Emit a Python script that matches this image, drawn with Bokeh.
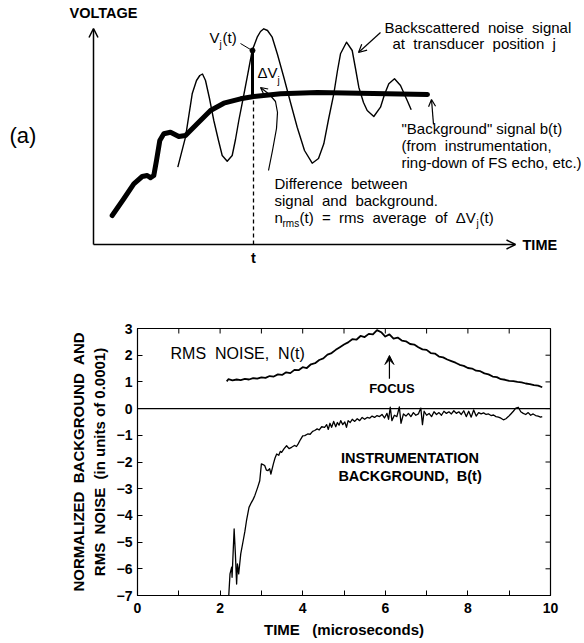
import math
from bokeh.plotting import figure
from bokeh.models import (Range1d, Label, Arrow, OpenHead, VeeHead, Span,
                          FixedTicker)
from bokeh.layouts import column
from bokeh.embed import file_html
from bokeh.resources import INLINE

FONT = "Liberation Sans"
S2 = " \u00a0"      # wide word gap (SVG collapses plain double spaces)
S3 = " \u00a0\u00a0"

# ---------------- panel (a): schematic (arbitrary units) ----------------
bg_t = [1.87, 3.03, 4.03, 4.87, 5.37, 5.7, 6.03, 6.3, 6.63, 7.03, 7.7, 8.53,
        9.2, 10.37, 11.7, 13.03, 14.7, 16.03, 18.7, 22.4, 28.0, 33.4]
bg_v = [2.9, 4.57, 6.07, 6.8, 6.9, 6.67, 6.9, 8.4, 10.4, 11.07, 11.23, 10.8,
        10.9, 12.07, 13.4, 14.13, 14.57, 14.8, 15.07, 15.2, 15.1, 15.0]

sig_t = [8.43, 9.2, 9.87, 10.3, 10.63, 10.9, 11.2, 11.6, 12.03, 12.5, 12.87,
         13.37, 13.87, 14.2, 14.53, 15.0, 15.37, 15.87, 16.37, 16.7, 17.03,
         17.4, 17.87, 18.4, 19.03, 19.7, 20.37, 21.1, 21.87, 22.5, 23.03,
         23.5, 24.03, 24.4, 24.7, 25.3, 25.87, 26.2, 26.53, 27.0, 27.37,
         28.03, 28.7, 29.1, 29.53, 30.1, 30.7, 31.37, 31.77]
sig_v = [7.73, 10.73, 15.07, 16.4, 16.9, 17.05, 16.4, 14.6, 12.4, 10.4, 8.9,
         8.33, 8.9, 10.5, 12.4, 14.8, 16.73, 19.4, 20.73, 21.3, 21.57,
         21.4, 20.73, 19.0, 16.73, 14.2, 11.73, 9.4, 8.13, 8.6, 10.07,
         12.5, 15.07, 17.4, 19.07, 20.23, 19.4, 17.6, 15.73, 14.2, 13.4,
         12.8, 13.73, 15.0, 16.07, 16.57, 15.9, 14.4, 13.47]

lead_t = [17.5, 17.9, 18.3, 18.4, 18.2, 17.6]
lead_v = [7.4, 9.4, 11.6, 13.2, 14.3, 15.0]

vj_t = 15.9
vj_v = 19.4
bg_at_t = 14.8

# ---------------- panel (b): measured data ----------------
n_t = [2.16, 2.2, 2.3, 2.4, 2.5, 2.6, 2.7, 2.8, 2.9, 3.0, 3.1, 3.2, 3.3, 3.4,
       3.5, 3.6, 3.7, 3.8, 3.9, 4.0, 4.1, 4.2, 4.3, 4.4, 4.5, 4.6, 4.7, 4.8,
       4.9, 5.0, 5.1, 5.2, 5.3, 5.4, 5.5, 5.6, 5.7, 5.8, 5.9, 6.0, 6.1, 6.2,
       6.3, 6.4, 6.5, 6.6, 6.7, 6.8, 6.9, 7.0, 7.1, 7.2, 7.3, 7.4, 7.5, 7.6,
       7.7, 7.8, 7.9, 8.0, 8.1, 8.2, 8.3, 8.4, 8.5, 8.6, 8.7, 8.8, 8.9, 9.0,
       9.1, 9.2, 9.3, 9.4, 9.5, 9.6, 9.7, 9.8]
n_val = [1.02, 1.10, 1.06, 1.09, 1.07, 1.11, 1.09, 1.14, 1.12, 1.17, 1.15,
         1.22, 1.20, 1.28, 1.26, 1.36, 1.33, 1.45, 1.44, 1.55, 1.52, 1.66,
         1.70, 1.82, 1.88, 2.02, 2.08, 2.20, 2.30, 2.40, 2.48, 2.60, 2.58,
         2.72, 2.68, 2.80, 2.78, 2.94, 2.86, 2.70, 2.78, 2.62, 2.66, 2.55,
         2.52, 2.42, 2.40, 2.30, 2.22, 2.20, 2.08, 2.06, 1.95, 1.92, 1.84,
         1.78, 1.72, 1.64, 1.60, 1.52, 1.50, 1.42, 1.40, 1.32, 1.28, 1.20,
         1.18, 1.10, 1.08, 1.04, 1.03, 1.00, 0.98, 0.94, 0.92, 0.88, 0.86,
         0.80]

b_t = [2.21, 2.24, 2.28, 2.29, 2.34, 2.37, 2.40, 2.42, 2.45, 2.50, 2.56,
       2.60, 2.64, 2.70, 2.76, 2.80, 2.84, 2.91, 2.96, 3.00, 3.04, 3.08,
       3.12, 3.16, 3.20, 3.23, 3.29, 3.33, 3.37, 3.42, 3.46, 3.49, 3.55,
       3.61, 3.67, 3.73, 3.80, 3.85, 3.89, 3.95, 4.00, 4.05, 4.12, 4.18,
       4.24, 4.29, 4.35, 4.40, 4.46, 4.53, 4.58, 4.62, 4.66, 4.70, 4.75,
       4.80, 4.84, 4.88, 4.92, 4.97, 5.02, 5.06, 5.10, 5.15, 5.20, 5.26,
       5.32, 5.38, 5.44, 5.50, 5.56, 5.62, 5.68, 5.74, 5.80, 5.86, 5.92,
       5.98, 6.04, 6.08, 6.12, 6.16, 6.22, 6.28, 6.34, 6.38, 6.44, 6.50,
       6.56, 6.62, 6.68, 6.74, 6.80, 6.86, 6.90, 6.94, 7.00, 7.06, 7.12,
       7.18, 7.24, 7.30, 7.36, 7.42, 7.48, 7.54, 7.60, 7.66, 7.72, 7.78,
       7.84, 7.90, 7.96, 8.02, 8.08, 8.14, 8.20, 8.26, 8.32, 8.38, 8.44,
       8.50, 8.56, 8.62, 8.68, 8.74, 8.80, 8.86, 8.92, 8.98, 9.04, 9.10,
       9.16, 9.22, 9.28, 9.34, 9.40, 9.46, 9.52, 9.58, 9.64, 9.70, 9.76,
       9.80]
b_val = [-7.0, -6.19, -5.94, -6.32, -4.51, -5.44, -6.57, -5.82, -6.19, -5.44,
         -4.94, -4.60, -4.19, -3.70, -3.51, -3.40, -3.26, -2.95, -2.70, -2.07,
         -2.10, -2.13, -2.30, -2.32, -2.25, -2.45, -2.07, -1.85, -1.70, -1.75,
         -1.60, -1.64, -1.50, -1.39, -1.50, -1.45, -1.38, -1.42, -1.32, -1.15,
         -1.02, -1.01, -0.95, -0.96, -0.85, -0.82, -0.76, -0.80, -0.68, -0.70,
         -0.60, -0.78, -0.55, -0.70, -0.48, -0.68, -0.52, -0.62, -0.45, -0.60,
         -0.50, -0.70, -0.45, -0.52, -0.40, -0.48, -0.38, -0.45, -0.33, -0.40,
         -0.33, -0.36, -0.28, -0.33, -0.26, -0.30, -0.22, -0.35, -0.18, -0.40,
         0.05, -0.45, -0.25, -0.30, 0.06, -0.55, -0.20, -0.28, -0.18, -0.30,
         -0.15, -0.25, -0.20, 0.02, -0.60, -0.10, -0.25, -0.18, -0.30, -0.12,
         -0.22, -0.15, -0.25, -0.10, -0.18, -0.12, -0.20, -0.08, -0.18, -0.12,
         -0.22, -0.08, -0.30, -0.10, -0.32, -0.05, -0.28, -0.15, -0.20, -0.16,
         -0.22, -0.20, -0.26, -0.24, -0.30, -0.32, -0.36, -0.42, -0.38, -0.30,
         -0.20, -0.10, 0.02, 0.05, -0.12, -0.18, -0.22, -0.15, -0.25, -0.20,
         -0.26, -0.28, -0.32, -0.30]

x_ticks = [0, 2, 4, 6, 8, 10]
x_minor = [1, 3, 5, 7, 9]
y_ticks = [-7, -6, -5, -4, -3, -2, -1, 0, 1, 2, 3]


def lab(p, x, y, text, size, bold=False, align="left", baseline="middle"):
    p.add_layout(Label(x=x, y=y, text=text, text_font=FONT,
                       text_font_size=f"{size}px",
                       text_font_style="bold" if bold else "normal",
                       text_align=align, text_baseline=baseline,
                       text_color="black"))


# ================= figure (a) =================
pa = figure(width=584, height=300, x_range=Range1d(-9.3, 49.1),
            y_range=Range1d(-5.6, 24.4), x_axis_type=None, y_axis_type=None,
            output_backend="svg", toolbar_location=None,
            min_border_left=0, min_border_right=0, min_border_top=0,
            min_border_bottom=0)
pa.outline_line_color = None
pa.grid.visible = False

# axes with arrowheads
pa.add_layout(Arrow(end=OpenHead(size=9, line_width=1.5), x_start=0, y_start=0,
                    x_end=0, y_end=21.6, line_width=1.5))
pa.add_layout(Arrow(end=OpenHead(size=9, line_width=1.5), x_start=0, y_start=0,
                    x_end=42.2, y_end=0, line_width=1.5))

pa.line(bg_t, bg_v, line_width=5, color="black", line_join="round",
        line_cap="round")
pa.line(sig_t, sig_v, line_width=1.4, color="black", line_join="round")

# dashed marker at time t and delta V segment
pa.line([16.0, 16.0], [0, bg_at_t], line_dash="4 3", line_width=1.3,
        color="black")
pa.line([vj_t, vj_t], [bg_at_t, vj_v], line_width=3, color="black")
pa.scatter([vj_t], [vj_v], size=5, color="black")
pa.line([14.7, 15.7], [20.1, 19.5], line_width=1, color="black")

# wavy leader to delta V
pa.line(lead_t, lead_v, line_width=1.2, color="black", line_join="round")
pa.add_layout(Arrow(end=OpenHead(size=7, line_width=1.2), x_start=17.6,
                    y_start=15.0, x_end=16.7, y_end=15.7, line_width=1.2))
# other arrows
pa.add_layout(Arrow(end=OpenHead(size=8, line_width=1.2), x_start=28.7,
                    y_start=21.2, x_end=26.5, y_end=19.2, line_width=1.2))
pa.add_layout(Arrow(end=OpenHead(size=7, line_width=1.2), x_start=34.0,
                    y_start=12.0, x_end=33.8, y_end=14.5, line_width=1.2))

lab(pa, -2.4, 23.2, "VOLTAGE", 14.5, bold=True)
lab(pa, 42.9, 0.0, "TIME", 14.5, bold=True)
lab(pa, -8.4, 10.9, "(a)", 22)
lab(pa, 16.0, -1.3, "t", 14.5, bold=True, align="center")

lab(pa, 11.6, 20.7, "V", 15)
lab(pa, 12.6, 20.0, "j", 10)
lab(pa, 12.9, 20.7, "(t)", 15)
lab(pa, 16.4, 17.2, "\u0394V", 15)
lab(pa, 18.4, 16.4, "j", 10)

lab(pa, 29.1, 21.7, "Backscattered" + S2 + "noise" + S2 + "signal", 15)
lab(pa, 29.9, 20.1, "at" + S2 + "transducer" + S2 + "position" + S2 + "j", 15)

lab(pa, 30.8, 11.6, "\"Background\" signal b(t)", 15)
lab(pa, 30.8, 9.9, "(from" + S2 + "instrumentation,", 15)
lab(pa, 30.8, 8.2, "ring-down of FS echo, etc.)", 15)

lab(pa, 18.1, 6.1, "Difference" + S2 + "between", 15)
lab(pa, 18.1, 4.4, "signal" + S2 + "and" + S2 + "background.", 15)
lab(pa, 18.1, 2.7, "n", 15)
lab(pa, 18.9, 2.1, "rms", 10)
lab(pa, 20.6, 2.7, "(t)" + S2 + "=" + S2 + "rms" + S2 + "average" + S2 + "of"
    + S2 + "\u0394V", 15)
lab(pa, 38.3, 2.1, "j", 10)
lab(pa, 38.6, 2.7, "(t)", 15)

# ================= figure (b) =================
pb = figure(width=584, height=343, x_range=Range1d(x_ticks[0], x_ticks[-1]),
            y_range=Range1d(y_ticks[0], y_ticks[-1]), output_backend="svg",
            toolbar_location=None, min_border_left=137, min_border_right=34,
            min_border_top=28, min_border_bottom=48)
pb.grid.visible = False
pb.outline_line_color = "black"
pb.outline_line_width = 1.2

pb.xaxis.ticker = FixedTicker(ticks=x_ticks, minor_ticks=x_minor)
pb.yaxis.ticker = FixedTicker(ticks=y_ticks)

for ax in pb.axis:
    ax.major_tick_in = 5
    ax.major_tick_out = 0
    ax.minor_tick_in = 5
    ax.minor_tick_out = 0
    ax.axis_line_color = "black"
    ax.major_tick_line_color = "black"
    ax.minor_tick_line_color = "black"
    ax.major_label_text_font = FONT
    ax.major_label_text_font_style = "bold"
    ax.major_label_text_font_size = "14px"
    ax.major_label_text_color = "black"
    ax.axis_label_text_font = FONT
    ax.axis_label_text_font_style = "bold"
    ax.axis_label_text_font_size = "15px"
    ax.axis_label_text_color = "black"

pb.xaxis.major_label_standoff = 7
pb.xaxis.axis_label = "TIME" + S3 + "(microseconds)"
pb.xaxis.axis_label_standoff = 5
pb.yaxis.major_label_standoff = 5
pb.yaxis.axis_label = ("NORMALIZED" + S2 + "BACKGROUND" + S2 + "AND\n"
                       "RMS" + S2 + "NOISE" + S2 + "(in units of 0.0001)")
pb.yaxis.axis_label_standoff = 6

# inward ticks on the top and right edges of the frame
top_ticks = x_ticks + x_minor
pb.ray(x=top_ticks, y=[y_ticks[-1]] * len(top_ticks), length=5,
       length_units="screen", angle=-math.pi / 2, color="black", line_width=1)
pb.ray(x=[x_ticks[-1]] * len(y_ticks), y=y_ticks, length=5,
       length_units="screen", angle=math.pi, color="black", line_width=1)

pb.add_layout(Span(location=0, dimension="width", line_color="black",
                   line_width=1.2))

pb.line(n_t, n_val, line_width=1.8, color="black", line_join="round")
pb.line(b_t, b_val, line_width=1.3, color="black", line_join="round")

lab(pb, 0.8, 2.06, "RMS" + S2 + "NOISE," + S2 + "N(t)", 16)
lab(pb, 6.16, 0.75, "FOCUS", 13, bold=True, align="center")
pb.add_layout(Arrow(end=VeeHead(size=9, fill_color="black"), x_start=6.1,
                    y_start=1.12, x_end=6.1, y_end=1.99, line_width=1.2))
lab(pb, 6.6, -1.84, "INSTRUMENTATION", 14.5, bold=True, align="center")
lab(pb, 6.6, -2.51, "BACKGROUND," + S2 + "B(t)", 14.5, bold=True,
    align="center")
lab(pb, -2.76, -1.95, "(b)", 22)

# keep each panel's own frame (no cross-panel frame alignment)
for p in (pa, pb):
    if "frame_align" in p.properties():
        p.frame_align = False

layout = column(pa, pb, spacing=0)
open("out.html", "w").write(file_html(layout, INLINE))
